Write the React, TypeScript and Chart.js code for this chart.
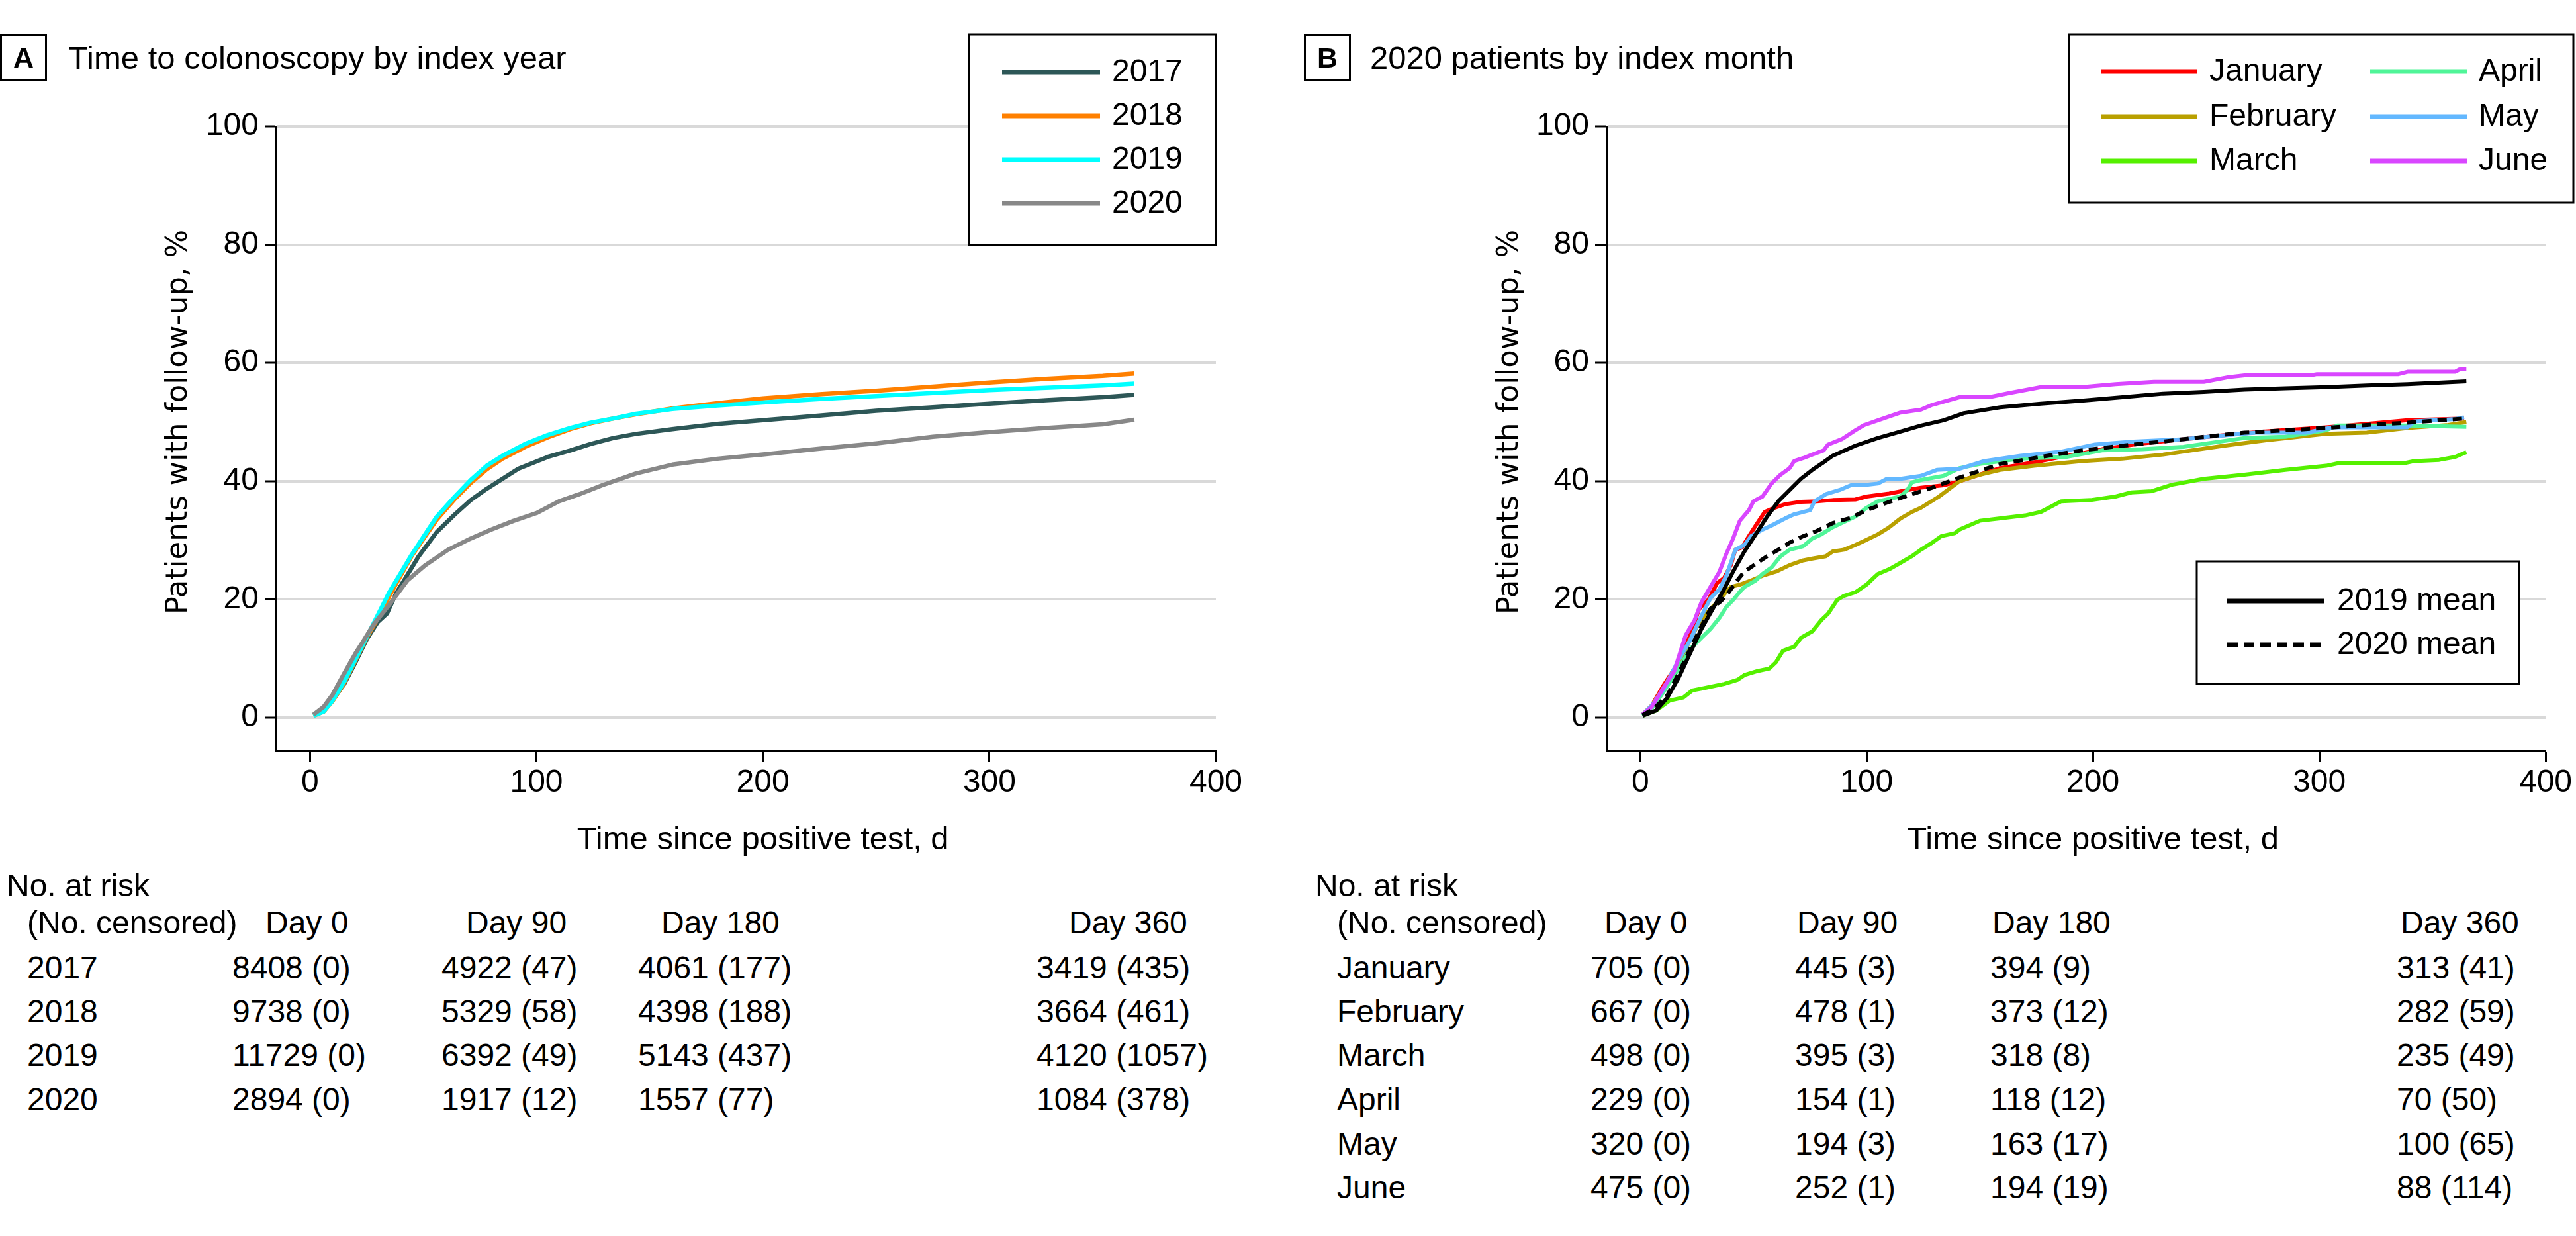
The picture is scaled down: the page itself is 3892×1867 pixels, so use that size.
import React, { useEffect, useRef } from 'react';
import { Chart, registerables } from 'chart.js';

Chart.register(...registerables);

type Pt = [number, number];

// ---------- Panel A data: time to colonoscopy by index year ----------
const yearLabels = ['2017', '2018', '2019', '2020'];
const yearColors = ['#2d5757', '#ff8000', '#00ffff', '#888888'];

const km2017: Pt[] = [[1.5,0.4],[6,1.2],[10,3.0],[15,5.6],[20,9.3],[25,13.2],[30,16.2],[34,17.6],[38,21.0],[42,23.5],[48,27.3],[56,31.4],[64,34.4],[71,36.8],[78,38.7],[85,40.4],[92,42.1],[105,44.1],[115,45.2],[124,46.3],[134,47.3],[144,48.0],[160,48.8],[180,49.7],[200,50.3],[225,51.1],[250,51.9],[275,52.5],[300,53.1],[325,53.7],[350,54.2],[364,54.6]];
const km2018: Pt[] = [[1.5,0.3],[6,1.0],[10,2.8],[15,5.8],[20,9.6],[25,13.5],[30,16.8],[35,20.5],[40,24.0],[45,27.4],[50,30.2],[56,33.5],[64,37.0],[71,39.7],[78,42.0],[85,43.8],[95,45.8],[105,47.4],[115,48.8],[124,49.8],[134,50.6],[144,51.3],[160,52.3],[180,53.2],[200,54.0],[225,54.7],[250,55.3],[275,56.0],[300,56.7],[325,57.3],[350,57.8],[364,58.2]];
const km2019: Pt[] = [[1.5,0.3],[6,1.0],[10,2.9],[15,6.0],[20,9.8],[25,13.6],[30,17.4],[35,21.2],[40,24.4],[45,27.6],[50,30.5],[56,34.0],[64,37.4],[71,40.2],[78,42.6],[85,44.3],[95,46.3],[105,47.8],[115,49.0],[124,49.9],[134,50.6],[144,51.4],[160,52.2],[180,52.8],[200,53.3],[225,53.9],[250,54.4],[275,54.9],[300,55.4],[325,55.8],[350,56.2],[364,56.5]];
const km2020: Pt[] = [[1.5,0.5],[6,1.8],[10,3.9],[15,7.4],[20,10.8],[24,13.2],[28,15.7],[35,19.1],[43,23.2],[51,25.8],[61,28.4],[71,30.3],[80,31.8],[90,33.3],[100,34.6],[110,36.6],[119,37.8],[129,39.3],[144,41.3],[160,42.8],[180,43.8],[200,44.5],[225,45.5],[250,46.4],[275,47.5],[300,48.3],[325,49.0],[350,49.6],[364,50.4]];

// ---------- Panel B data: 2020 patients by index month ----------
const monthLabels = ['January', 'February', 'March', 'April', 'May', 'June'];
const monthColors = ['#ff0000', '#b9a000', '#55f000', '#50f598', '#63b8ff', '#d946ff'];

const kmJan: Pt[] = [[1,0.5],[5,2.0],[10,5.3],[17,9.4],[22,13.9],[26,18.4],[30,19.9],[34,22.8],[37,23.6],[40,25.8],[42,28.4],[45,28.8],[48,30.7],[51,32.5],[55,34.8],[58,35.3],[64,36.1],[71,36.5],[78,36.6],[85,36.8],[95,36.9],[100,37.4],[110,37.9],[118,38.5],[124,38.9],[134,39.3],[141,40.0],[150,41.1],[159,42.2],[177,43.4],[186,44.1],[195,44.7],[204,45.4],[222,46.4],[240,47.1],[258,47.8],[276,48.4],[303,49.1],[321,49.7],[339,50.3],[364,50.6]];
const kmFeb: Pt[] = [[1,0.5],[5,2.0],[10,4.9],[17,9.4],[22,13.1],[26,16.1],[31,18.4],[35,19.9],[38,21.3],[40,22.1],[44,22.5],[49,23.2],[54,24.0],[60,24.7],[66,25.8],[72,26.6],[76,26.9],[82,27.3],[85,28.1],[90,28.4],[95,29.2],[99,29.9],[105,31.0],[110,32.2],[115,33.7],[120,34.8],[124,35.5],[132,37.4],[141,40.0],[150,41.1],[159,41.9],[174,42.6],[195,43.4],[213,43.8],[231,44.5],[240,45.0],[258,46.0],[276,46.9],[303,48.0],[321,48.2],[330,48.6],[339,49.0],[357,49.5],[365,50.0]];
const kmMar: Pt[] = [[1,0.3],[7,1.2],[13,2.9],[19,3.4],[23,4.6],[27,4.9],[37,5.7],[43,6.4],[46,7.2],[52,7.9],[57,8.3],[60,9.4],[63,11.3],[68,12.0],[71,13.5],[76,14.6],[80,16.5],[83,17.6],[87,19.9],[90,20.6],[95,21.2],[100,22.5],[103,23.6],[105,24.3],[110,25.1],[115,26.2],[120,27.3],[124,28.4],[129,29.6],[133,30.7],[139,31.2],[141,31.8],[150,33.3],[159,33.7],[170,34.2],[177,34.8],[186,36.6],[199,36.8],[210,37.4],[217,38.1],[226,38.3],[235,39.4],[249,40.4],[267,41.1],[285,41.9],[303,42.6],[308,43.0],[337,43.0],[342,43.4],[353,43.6],[360,44.1],[365,44.9]];
const kmApr: Pt[] = [[1,0.3],[5,1.5],[10,4.2],[17,8.3],[22,11.6],[27,13.5],[31,15.0],[35,16.9],[38,18.7],[41,19.9],[44,21.3],[46,22.1],[51,23.2],[54,24.3],[58,25.4],[62,27.3],[66,28.4],[72,29.0],[76,30.3],[80,31.0],[85,32.2],[95,34.0],[100,35.5],[105,36.6],[110,37.0],[115,37.4],[118,38.5],[120,39.8],[124,40.2],[134,40.9],[141,42.2],[150,42.9],[168,43.8],[188,44.1],[204,45.2],[222,45.4],[240,45.8],[267,47.3],[285,47.5],[303,48.6],[308,49.4],[339,49.4],[365,49.2]];
const kmMay: Pt[] = [[1,0.5],[5,2.0],[10,4.6],[17,9.8],[22,13.1],[27,17.2],[31,20.2],[35,21.7],[38,24.0],[42,28.4],[46,29.2],[49,30.7],[54,31.8],[58,32.5],[64,33.7],[68,34.4],[75,35.1],[77,36.6],[82,37.8],[88,38.5],[93,39.3],[100,39.4],[105,39.6],[109,40.4],[115,40.4],[124,40.9],[131,41.9],[141,42.1],[152,43.4],[168,44.3],[186,45.0],[201,46.2],[218,46.7],[240,47.1],[253,47.6],[272,48.2],[294,48.2],[306,49.1],[339,49.1],[342,50.1],[360,50.5],[364,50.8]];
const kmJun: Pt[] = [[1,0.5],[5,1.8],[10,4.9],[15,7.9],[20,13.9],[24,16.5],[27,19.5],[31,22.1],[35,24.7],[38,27.7],[41,30.3],[44,33.3],[48,35.1],[50,36.6],[54,37.4],[58,39.6],[62,41.1],[66,42.2],[68,43.4],[72,43.9],[76,44.5],[81,45.2],[83,46.2],[89,47.1],[95,48.6],[99,49.5],[105,50.3],[115,51.6],[124,52.1],[129,52.9],[141,54.2],[154,54.2],[163,54.9],[177,55.9],[195,55.9],[210,56.4],[227,56.8],[249,56.8],[260,57.6],[267,57.9],[296,57.9],[299,58.1],[335,58.1],[339,58.5],[360,58.5],[362,58.9],[365,58.9]];

const meanLabels = ['2019 mean', '2020 mean'];
const mean2019: Pt[] = [[1,0.3],[7,1.2],[12,3.4],[17,6.8],[22,10.9],[27,15.0],[32,18.4],[37,21.7],[41,24.7],[46,28.1],[51,31.0],[56,34.0],[61,36.6],[66,38.5],[71,40.4],[76,41.9],[81,43.2],[85,44.3],[95,46.0],[105,47.3],[115,48.4],[124,49.4],[134,50.3],[143,51.5],[159,52.5],[177,53.1],[195,53.6],[213,54.2],[231,54.8],[249,55.1],[267,55.5],[285,55.7],[303,55.9],[321,56.2],[339,56.4],[365,56.9]];
const mean2020: Pt[] = [[1,0.4],[6,1.5],[12,3.8],[17,7.5],[22,11.6],[27,15.4],[31,18.4],[35,19.5],[38,20.6],[42,22.8],[46,24.7],[51,26.0],[56,27.3],[61,28.4],[66,29.6],[72,30.7],[77,31.4],[85,32.9],[93,33.8],[100,35.1],[110,36.5],[120,37.8],[129,38.9],[141,40.6],[159,42.9],[177,44.1],[195,45.2],[213,46.0],[231,46.7],[249,47.5],[267,48.2],[285,48.6],[303,49.0],[321,49.5],[339,49.9],[364,50.6]];

// ---------- Axes ----------
const xTicks = [0, 100, 200, 300, 400];
const yTicks = [0, 20, 40, 60, 80, 100];
const xTitle = 'Time since positive test, d';
const yTitle = 'Patients with follow-up, %';

// ---------- Numbers at risk ----------
const riskHeaders = ['Day 0', 'Day 90', 'Day 180', 'Day 360'];
const riskYearRows = ['2017', '2018', '2019', '2020'];
const riskYearValues = [
  ['8408 (0)', '4922 (47)', '4061 (177)', '3419 (435)'],
  ['9738 (0)', '5329 (58)', '4398 (188)', '3664 (461)'],
  ['11729 (0)', '6392 (49)', '5143 (437)', '4120 (1057)'],
  ['2894 (0)', '1917 (12)', '1557 (77)', '1084 (378)'],
];
const riskMonthRows = ['January', 'February', 'March', 'April', 'May', 'June'];
const riskMonthValues = [
  ['705 (0)', '445 (3)', '394 (9)', '313 (41)'],
  ['667 (0)', '478 (1)', '373 (12)', '282 (59)'],
  ['498 (0)', '395 (3)', '318 (8)', '235 (49)'],
  ['229 (0)', '154 (1)', '118 (12)', '70 (50)'],
  ['320 (0)', '194 (3)', '163 (17)', '100 (65)'],
  ['475 (0)', '252 (1)', '194 (19)', '88 (114)'],
];

const FONT = '"Liberation Sans", Arial, Helvetica, sans-serif';
const CW = 1946;
const CH = 1320;
const PLOT_TOP = 191;
const PLOT_BOTTOM = 1134;

type LegendItem = { index: number; x1: number; x2: number; tx: number; y: number };
type LegendBox = { x: number; y: number; w: number; h: number; items: LegendItem[] };
type PanelSpec = { left: number; right: number; yTitleX: number; legends: LegendBox[]; lineWidth: number };

function decorPlugin(spec: PanelSpec) {
  return {
    id: 'decor',
    afterDraw(chart: any) {
      const ctx: CanvasRenderingContext2D = chart.ctx;
      const xs = chart.scales.x;
      const ys = chart.scales.y;
      ctx.save();
      ctx.fillStyle = '#000';
      ctx.font = `49px ${FONT}`;
      ctx.textAlign = 'center';
      ctx.textBaseline = 'alphabetic';
      ctx.fillText(xTitle, xs.getPixelForValue(200), chart.chartArea.bottom + 149);
      ctx.translate(spec.yTitleX, ys.getPixelForValue(50));
      ctx.rotate(-Math.PI / 2);
      ctx.font = '45px "DejaVu Sans", Verdana, sans-serif';
      ctx.textBaseline = 'middle';
      ctx.fillText(yTitle, 0, 0);
      ctx.restore();

      for (const box of spec.legends) {
        ctx.save();
        ctx.fillStyle = '#fff';
        ctx.fillRect(box.x, box.y, box.w, box.h);
        ctx.strokeStyle = '#000';
        ctx.lineWidth = 3;
        ctx.strokeRect(box.x, box.y, box.w, box.h);
        for (const it of box.items) {
          const ds = chart.data.datasets[it.index];
          ctx.strokeStyle = ds.borderColor;
          ctx.lineWidth = 7;
          ctx.lineCap = 'butt';
          ctx.setLineDash(ds.borderDash ? [16, 9] : []);
          ctx.beginPath();
          ctx.moveTo(it.x1, it.y);
          ctx.lineTo(it.x2, it.y);
          ctx.stroke();
          ctx.setLineDash([]);
          ctx.fillStyle = '#000';
          ctx.font = `48px ${FONT}`;
          ctx.textAlign = 'left';
          ctx.textBaseline = 'middle';
          ctx.fillText(ds.label, it.tx, it.y + 1);
        }
        ctx.restore();
      }
    },
  };
}

function buildConfig(datasets: any[], spec: PanelSpec) {
  return {
    type: 'line',
    data: { datasets },
    plugins: [decorPlugin(spec)],
    options: {
      responsive: false,
      animation: false,
      devicePixelRatio: 1,
      layout: { padding: { left: 0, top: PLOT_TOP, right: CW - spec.right, bottom: 0 } },
      plugins: { legend: { display: false }, tooltip: { enabled: false }, title: { display: false } },
      elements: { point: { radius: 0 }, line: { tension: 0 } },
      scales: {
        x: {
          type: 'linear',
          min: -15,
          max: 400,
          afterBuildTicks: (s: any) => { s.ticks = xTicks.map((v) => ({ value: v })); },
          afterFit: (s: any) => { s.height = CH - PLOT_BOTTOM; },
          grid: { drawOnChartArea: false, drawTicks: true, tickLength: 17, tickColor: '#000', tickWidth: 3 },
          border: { display: true, color: '#000', width: 3 },
          ticks: { font: { size: 48, family: FONT }, color: '#000', padding: 3, maxRotation: 0, autoSkip: false },
        },
        y: {
          type: 'linear',
          min: -5.6,
          max: 100,
          afterBuildTicks: (s: any) => { s.ticks = yTicks.map((v) => ({ value: v })); },
          afterFit: (s: any) => { s.width = spec.left; },
          grid: { color: '#d9d9d9', lineWidth: 4, drawTicks: true, tickLength: 17, tickColor: '#000', tickWidth: 3 },
          border: { display: true, color: '#000', width: 3 },
          ticks: { font: { size: 48, family: FONT }, color: '#000', padding: 9, autoSkip: false },
        },
      },
    },
  };
}

function toXY(pts: Pt[]) {
  return pts.map(([x, y]) => ({ x, y }));
}

function makeDatasets(labels: string[], colors: string[], series: Pt[][], width: number, dashed: boolean[] = []) {
  const n = labels.length;
  return labels.map((label, i) => ({
    label,
    data: toXY(series[i]),
    borderColor: colors[i],
    backgroundColor: colors[i],
    borderWidth: width,
    borderDash: dashed[i] ? [14, 9] : undefined,
    borderJoinStyle: 'round',
    fill: false,
    pointRadius: 0,
    order: n - i,
  }));
}

const specA: PanelSpec = {
  left: 417,
  right: 1837,
  yTitleX: 270,
  lineWidth: 6.5,
  legends: [
    {
      x: 1464, y: 52, w: 373, h: 318,
      items: [
        { index: 0, x1: 1514, x2: 1662, tx: 1680, y: 109 },
        { index: 1, x1: 1514, x2: 1662, tx: 1680, y: 175 },
        { index: 2, x1: 1514, x2: 1662, tx: 1680, y: 241 },
        { index: 3, x1: 1514, x2: 1662, tx: 1680, y: 307 },
      ],
    },
  ],
};

const specB: PanelSpec = {
  left: 481,
  right: 1900,
  yTitleX: 335,
  lineWidth: 6,
  legends: [
    {
      x: 1180, y: 52, w: 762, h: 254,
      items: [
        { index: 0, x1: 1228, x2: 1373, tx: 1392, y: 108 },
        { index: 1, x1: 1228, x2: 1373, tx: 1392, y: 176 },
        { index: 2, x1: 1228, x2: 1373, tx: 1392, y: 243 },
        { index: 3, x1: 1635, x2: 1782, tx: 1799, y: 108 },
        { index: 4, x1: 1635, x2: 1782, tx: 1799, y: 176 },
        { index: 5, x1: 1635, x2: 1782, tx: 1799, y: 243 },
      ],
    },
    {
      x: 1373, y: 848, w: 487, h: 185,
      items: [
        { index: 6, x1: 1419, x2: 1566, tx: 1585, y: 908 },
        { index: 7, x1: 1419, x2: 1566, tx: 1585, y: 974 },
      ],
    },
  ],
};

function ChartCanvas({ left, build }: { left: number; build: () => any }) {
  const ref = useRef<HTMLCanvasElement | null>(null);
  useEffect(() => {
    if (!ref.current) return;
    const chart = new Chart(ref.current, build());
    return () => chart.destroy();
  }, []);
  return (
    <canvas
      ref={ref}
      width={CW}
      height={CH}
      style={{ position: 'absolute', left, top: 0, width: CW, height: CH }}
    />
  );
}

function Txt({ x, cy, size = 48, children, bold = false }: { x: number; cy: number; size?: number; children: any; bold?: boolean }) {
  return (
    <div
      style={{
        position: 'absolute',
        left: x,
        top: cy - 0.49 * size,
        fontSize: size,
        lineHeight: `${size}px`,
        whiteSpace: 'nowrap',
        fontWeight: bold ? 'bold' : 'normal',
        color: '#000',
      }}
    >
      {children}
    </div>
  );
}

function PanelLabel({ x, letter }: { x: number; letter: string }) {
  return (
    <div
      style={{
        position: 'absolute',
        left: x,
        top: 52,
        width: 71,
        height: 71,
        boxSizing: 'border-box',
        border: '3px solid #000',
        display: 'flex',
        alignItems: 'center',
        justifyContent: 'center',
        fontWeight: 'bold',
        fontSize: 43,
        lineHeight: 1,
      }}
    >
      {letter}
    </div>
  );
}

const rowYs = [1462, 1528, 1594, 1661, 1728, 1794];

function RiskTable({ x0, labelX, headerXs, valueXs, rows, values }: { x0: number; labelX: number; headerXs: number[]; valueXs: number[]; rows: string[]; values: string[][] }) {
  return (
    <>
      <Txt x={x0} cy={1338}>No. at risk</Txt>
      <Txt x={labelX} cy={1394}>(No. censored)</Txt>
      {riskHeaders.map((h, i) => (
        <Txt key={'h' + i} x={headerXs[i]} cy={1394}>{h}</Txt>
      ))}
      {rows.map((r, ri) => (
        <React.Fragment key={'r' + ri}>
          <Txt x={labelX} cy={rowYs[ri]}>{r}</Txt>
          {values[ri].map((v, ci) => (
            <Txt key={'v' + ci} x={valueXs[ci]} cy={rowYs[ri]}>{v}</Txt>
          ))}
        </React.Fragment>
      ))}
    </>
  );
}

export default function App() {
  const buildA = () =>
    buildConfig(makeDatasets(yearLabels, yearColors, [km2017, km2018, km2019, km2020], specA.lineWidth), specA);
  const buildB = () =>
    buildConfig(
      makeDatasets(
        [...monthLabels, ...meanLabels],
        [...monthColors, '#000000', '#000000'],
        [kmJan, kmFeb, kmMar, kmApr, kmMay, kmJun, mean2019, mean2020],
        specB.lineWidth,
        [false, false, false, false, false, false, false, true]
      ),
      specB
    );

  return (
    <div
      style={{
        position: 'absolute',
        left: 0,
        top: 0,
        width: 3892,
        height: 1867,
        background: '#fff',
        overflow: 'hidden',
        fontFamily: FONT,
        color: '#000',
      }}
    >
      <ChartCanvas left={0} build={buildA} />
      <ChartCanvas left={1946} build={buildB} />
      <PanelLabel x={0} letter="A" />
      <PanelLabel x={1970} letter="B" />
      <Txt x={103} cy={87} size={49}>Time to colonoscopy by index year</Txt>
      <Txt x={2070} cy={87} size={49}>2020 patients by index month</Txt>
      <RiskTable
        x0={10}
        labelX={41}
        headerXs={[401, 704, 999, 1615]}
        valueXs={[351, 667, 964, 1566]}
        rows={riskYearRows}
        values={riskYearValues}
      />
      <RiskTable
        x0={1987}
        labelX={2020}
        headerXs={[2424, 2715, 3010, 3627]}
        valueXs={[2403, 2712, 3007, 3621]}
        rows={riskMonthRows}
        values={riskMonthValues}
      />
    </div>
  );
}
